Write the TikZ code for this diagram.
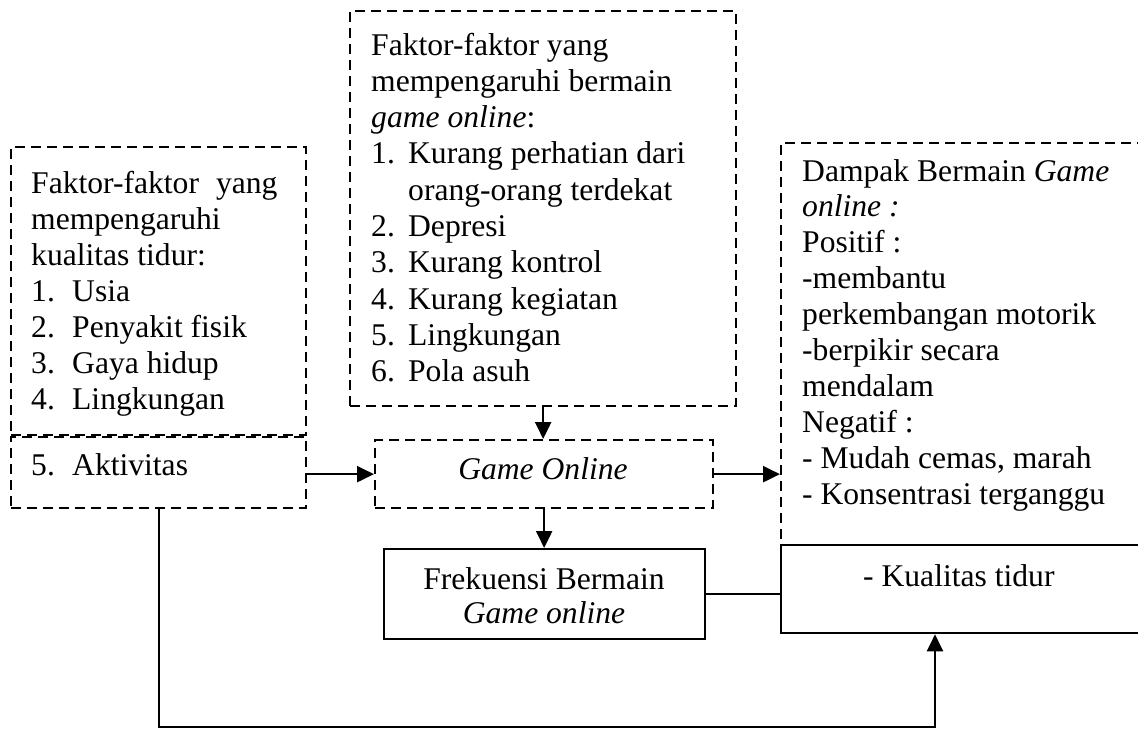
\documentclass[tikz,border=0pt]{standalone}
\usepackage{fontspec}
\setmainfont{Liberation Serif}
\usetikzlibrary{arrows.meta}
\newcommand{\itm}[2]{\makebox[#1][l]{#2}}
\newcommand{\boxtext}[2]{\begin{minipage}[t]{420pt}\fontsize{31.6}{#1}\selectfont\raggedright #2\end{minipage}}
\begin{document}
\begin{tikzpicture}[x=1pt,y=-1pt,
  dbox/.style={draw, dash pattern=on 10pt off 6pt, line width=2.3pt, inner sep=0pt, anchor=north west},
  sbox/.style={draw, line width=2.3pt, inner sep=0pt, anchor=north west},
  arr/.style={line width=2.3pt, -{Triangle[length=17pt,width=16pt]}},
  ln/.style={line width=2.3pt},
  txt/.style={inner sep=0pt, anchor=base west},
  ctxt/.style={inner sep=0pt, anchor=base, font=\fontsize{31.6}{36}\selectfont}]
\useasboundingbox (0,0) rectangle (1138,729);

% boxes
\node[dbox, minimum width=295pt, minimum height=288pt] (lbox) at (10,146) {};
\node[dbox, minimum width=295pt, minimum height=71pt] (lbox2) at (10,436) {};
\node[dbox, minimum width=386pt, minimum height=395pt] (mbox) at (349,10) {};
\node[dbox, minimum width=338pt, minimum height=68pt] (gbox) at (374,439) {};
\node[sbox, minimum width=321pt, minimum height=90pt] (fbox) at (383,548) {};
\node[dbox, minimum width=390pt, minimum height=402pt] (rbox) at (780,142) {};
\node[sbox, fill=white, minimum width=390pt, minimum height=88pt] (kbox) at (780,544) {};

% texts
\node[txt] (ltxt) at (31,193) {\boxtext{36pt}{%
Faktor-faktor\hspace{17pt}yang\\
mempengaruhi\\
kualitas tidur:\\
\itm{41pt}{1.}Usia\\
\itm{41pt}{2.}Penyakit fisik\\
\itm{41pt}{3.}Gaya hidup\\
\itm{41pt}{4.}Lingkungan}};
\node[txt] (atxt) at (31,475) {\boxtext{36pt}{\itm{41pt}{5.}Aktivitas}};
\node[txt] (mtxt) at (371,55) {\boxtext{36.3pt}{%
Faktor-faktor yang\\
mempengaruhi bermain\\
\textit{game online}:\\
\itm{37pt}{1.}Kurang perhatian dari\\
\hspace*{37pt}orang-orang terdekat\\
\itm{37pt}{2.}Depresi\\
\itm{37pt}{3.}Kurang kontrol\\
\itm{37pt}{4.}Kurang kegiatan\\
\itm{37pt}{5.}Lingkungan\\
\itm{37pt}{6.}Pola asuh}};
\node[ctxt] (gtxt) at (543,479) {\textit{Game Online}};
\node[ctxt] (ftxt) at (544,589) {Frekuensi Bermain};
\node[ctxt] (ftxt2) at (544,623) {\textit{Game online}};
\node[txt] (rtxt) at (802,181) {\boxtext{35.9pt}{%
Dampak Bermain \textit{Game}\\
\textit{online :}\\
Positif :\\
-membantu\\
perkembangan motorik\\
-berpikir secara\\
mendalam\\
Negatif :\\
- Mudah cemas, marah\\
- Konsentrasi terganggu}};
\node[txt, font=\fontsize{31.6}{36}\selectfont] (ktxt) at (863,586) {- Kualitas tidur};

% connectors
\coordinate (bl) at (157.5,727);
\coordinate (br) at (935,727);
\draw[arr] (mbox.south) -- (mbox.south |- gbox.north);
\draw[arr] (lbox2.east |- gbox.west) -- (gbox.west);
\draw[arr] (gbox.east) -- (gbox.east -| rbox.west);
\draw[arr] (gbox.south) -- (gbox.south |- fbox.north);
\draw[ln] (fbox.east) -- (fbox.east -| kbox.west);
\draw[arr] (lbox2.south) -- (lbox2.south |- bl) -- (br) -- (br |- kbox.south);
\end{tikzpicture}
\end{document}
